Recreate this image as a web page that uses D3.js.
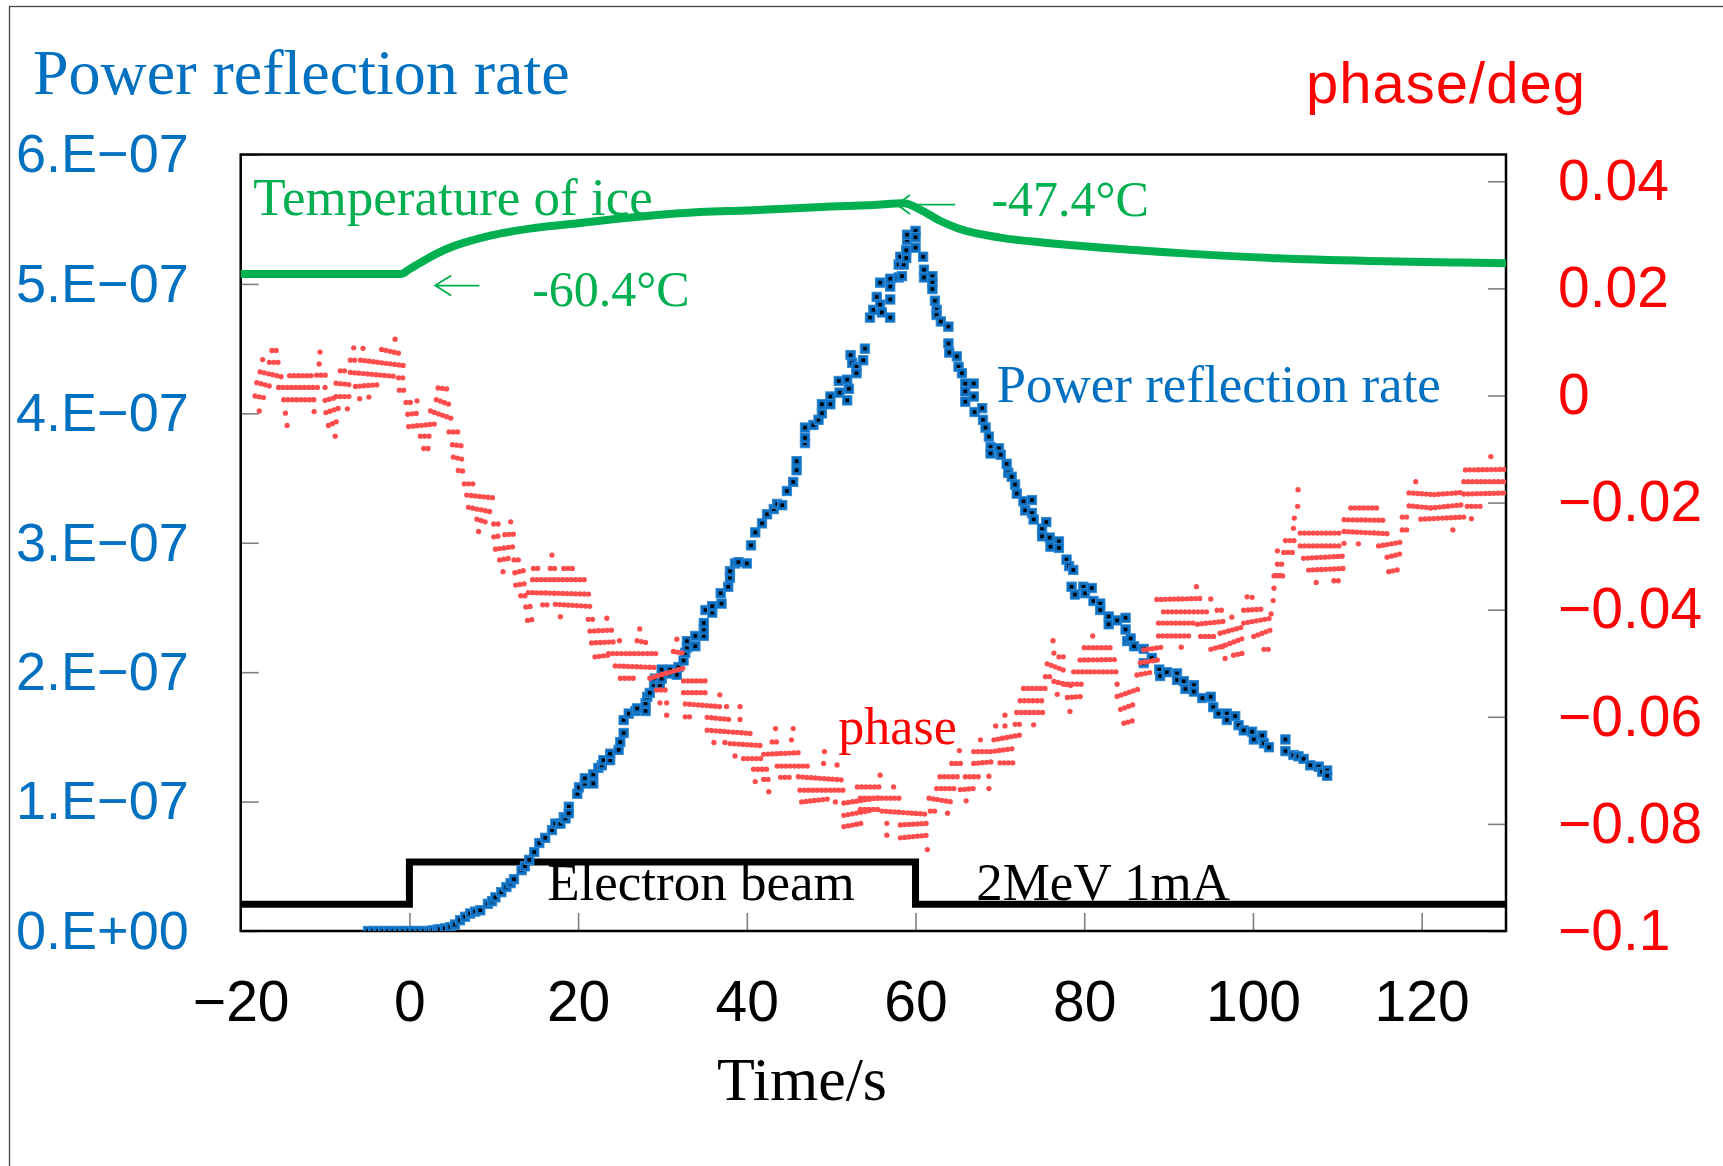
<!DOCTYPE html>
<html>
<head>
<meta charset="utf-8">
<script src="https://cdn.jsdelivr.net/npm/d3@7"></script>
<style>
  body { margin: 0; background: #fff; }
  svg { display: block; }
</style>
</head>
<body>
<div id="chart"></div>
<script>
// power reflection rate, [time s, value x1e-7]
var reflection = [
  [-4.9,0],[-4.3,0],[-3.7,0],[-3.1,0],[-2.5,0],[-1.9,0],[-1.3,0],[-0.7,0],[-0.1,0],[0.5,0],[1.1,0],[1.7,0],[2.3,0],[2.8,0.005],
  [3.3,0.01],[3.6,0.014],[4.2,0.02],[4.85,0.03],[5.4,0.05],[6.0,0.083],[6.6,0.11],[7.2,0.135],[7.8,0.15],[8.4,0.16],
  [9.3,0.21],[9.8,0.23],[10.2,0.26],[10.9,0.30],[11.5,0.34],[12.0,0.37],[12.4,0.40],[13.3,0.47],[13.7,0.50],[14.2,0.55],
  [14.8,0.61],[15.4,0.68],[16.1,0.72],[16.9,0.78],[17.3,0.83],[17.9,0.83],[18.3,0.88],[18.5,0.87],[18.9,0.96],[18.9,0.91],
  [19.9,1.06],[20.1,1.11],[20.8,1.14],[20.8,1.18],[21.8,1.14],[21.8,1.21],[22.4,1.26],[22.8,1.28],[23.0,1.32],[23.8,1.32],
  [23.8,1.37],[24.8,1.40],[25.0,1.46],[25.4,1.53],[25.4,1.63],[26.0,1.68],[26.8,1.70],[27.0,1.72],[28.0,1.70],[28.0,1.76],
  [28.2,1.81],[28.5,1.84],[29.0,1.90],[29.1,1.95],[29.7,1.90],[29.9,1.95],[29.9,2.02],[30.9,1.99],[30.9,2.02],[31.7,1.98],
  [31.9,2.04],[32.5,2.09],[32.7,2.15],[32.9,2.19],[32.9,2.24],[33.9,2.20],[33.9,2.28],[34.9,2.28],[34.9,2.33],[34.9,2.38],
  [35.1,2.48],[35.9,2.46],[35.9,2.51],[37.0,2.53],[36.9,2.61],[37.8,2.66],[38.0,2.73],[38.0,2.78],[38.6,2.84],[39.0,2.85],
  [40.0,2.84],[40.5,2.98],[41.0,3.08],[41.8,3.15],[42.4,3.22],[43.2,3.26],[43.6,3.30],[44.2,3.29],[44.75,3.40],[45.5,3.47],
  [45.9,3.56],[45.9,3.63],[46.9,3.77],[46.9,3.81],[46.9,3.89],[47.9,3.91],[48.5,3.95],[48.9,4.00],[48.9,4.07],[49.9,4.13],
  [49.9,4.07],[50.9,4.25],[51.0,4.16],[51.9,4.26],[52.1,4.19],[51.9,4.10],[52.3,4.45],[52.5,4.39],[53.0,4.36],[53.0,4.31],
  [53.8,4.41],[54.0,4.50],[54.6,4.74],[55.0,4.80],[55.4,4.90],[55.8,4.84],[56.0,4.78],[55.8,5.01],[57.0,4.98],[57.0,4.88],
  [57.0,4.74],[57.0,5.04],[58.0,5.05],[58.4,5.06],[58.0,5.15],[58.2,5.21],[58.6,5.15],[58.9,5.20],[58.9,5.26],[59.0,5.34],
  [59.0,5.38],[60.0,5.41],[60.0,5.36],[60.0,5.28],[60.9,5.21],[61.0,5.11],[61.0,5.05],[62.0,5.06],[62.0,5.01],[62.0,4.96],
  [62.3,4.87],[62.5,4.80],[62.5,4.76],[63.0,4.71],[63.9,4.67],[63.9,4.54],[64.0,4.47],[64.9,4.44],[65.1,4.36],[65.5,4.31],
  [65.9,4.23],[65.9,4.17],[65.9,4.09],[66.9,4.23],[66.9,4.13],[67.0,4.01],[67.9,4.04],[68.0,3.95],[68.3,3.89],[68.7,3.82],
  [68.9,3.74],[68.9,3.69],[69.9,3.73],[70.1,3.68],[70.8,3.61],[71.0,3.54],[71.4,3.51],[71.8,3.45],[72.0,3.38],[72.8,3.32],
  [73.0,3.25],[73.8,3.33],[73.8,3.23],[74.0,3.18],[75.0,3.11],[75.0,3.05],[75.5,3.16],[75.9,3.04],[76.0,2.97],[77.0,3.01],
  [77.0,2.96],[77.9,2.87],[78.2,2.82],[78.7,2.79],[78.5,2.66],[78.9,2.60],[79.9,2.66],[80.1,2.61],[80.9,2.65],[81.1,2.55],
  [81.9,2.53],[81.9,2.48],[82.9,2.43],[82.9,2.37],[83.9,2.40],[84.9,2.42],[84.9,2.33],[85.1,2.24],[85.5,2.26],[85.9,2.20],
  [87.05,2.18],[87.05,2.07],[88.0,2.11],[88.9,2.02],[89.0,1.97],[89.8,2.00],[91.0,1.99],[91.0,1.94],[91.8,1.93],[92.0,1.87],
  [93.0,1.90],[93.0,1.85],[94.0,1.80],[95.0,1.81],[95.3,1.73],[95.9,1.68],[96.9,1.68],[96.9,1.63],[97.9,1.66],[98.3,1.59],
  [98.9,1.55],[99.9,1.54],[100.1,1.48],[101.1,1.51],[101.3,1.45],[101.9,1.42],[103.85,1.48],[103.85,1.39],[104.8,1.36],
  [105.4,1.35],[106.0,1.33],[106.8,1.28],[107.8,1.27],[108.2,1.23],[108.8,1.24],[108.8,1.20]
];

// phase, runs of samples at one level: [t start, t end, phase start, phase end]
var phaseRuns = [
  [-17.7,-14.9,0.0044,0.0034],[-16.3,-15.3,0.0084,0.0084],[-16.6,-15.3,0.0062,0.0062],[-18.1,-16.4,0.0024,0.0017],
  [-18.3,-16.9,-0.0001,-0.0005],[-14.2,-11.4,0.0037,0.0037],[-15.5,-10.8,0.0015,0.0015],[-14.9,-11.0,-0.0008,-0.0008],
  [-11.0,-9.9,0.0038,0.0038],[-10.0,-9.0,-0.0009,-0.0005],[-9.9,-8.4,-0.0032,-0.0024],[-9.6,-8.5,-0.0056,-0.0048],
  [-8.2,-7.6,0.0046,0.0046],[-8.7,-7.0,0.0023,0.0020],[-8.7,-7.0,-0.0002,-0.0002],[-7.0,-6.2,0.0066,0.0066],
  [-5.8,-0.7,0.0066,0.0056],[-7.0,-1.9,0.0043,0.0036],[-6.4,-3.7,0.0017,0.0020],[-3.3,-1.3,0.0086,0.0079],
  [-1.3,-0.3,0.0033,0.0033],[-1.2,-0.3,0.0010,0.0010],[-0.4,0.5,-0.0013,-0.0013],[-0.2,1.3,-0.0035,-0.0033],
  [-0.1,3.2,-0.0058,-0.0053],[1.3,2.8,-0.0076,-0.0076],[1.7,2.4,-0.0099,-0.0099],[3.4,4.6,0.0014,0.0012],
  [3.2,4.8,-0.0008,-0.0017],[2.5,5.0,-0.0029,-0.0043],[4.7,6.2,-0.0068,-0.0068],[5.1,6.3,-0.0092,-0.0094],
  [5.2,6.5,-0.0115,-0.0120],[5.8,6.8,-0.0140,-0.0142],[6.5,7.6,-0.0165,-0.0165],[6.8,9.95,-0.0186,-0.0191],
  [7.0,9.95,-0.0209,-0.0218],[8.0,9.4,-0.0231,-0.0238],[10.0,10.55,-0.0240,-0.0240],[10.0,10.75,-0.0264,-0.0262],
  [10.2,12.5,-0.0287,-0.0282],[10.7,11.85,-0.0307,-0.0304],[11.3,12.4,-0.0260,-0.0259],[12.4,13.2,-0.0307,-0.0307],
  [12.5,13.8,-0.0331,-0.0326],[12.6,13.9,-0.0354,-0.0351],[13.2,13.8,-0.0374,-0.0374],[13.8,14.8,-0.0395,-0.0393],
  [14.0,14.7,-0.0420,-0.0418],[14.7,15.5,-0.0323,-0.0323],[16.7,17.3,-0.0323,-0.0323],[18.3,19.5,-0.0323,-0.0323],
  [14.6,21.2,-0.0344,-0.0344],[14.1,21.4,-0.0368,-0.0371],[15.8,16.7,-0.0391,-0.0391],[17.3,21.6,-0.0390,-0.0394],
  [21.2,21.8,-0.0418,-0.0418],[21.4,24.2,-0.0440,-0.0438],[21.6,24.4,-0.0462,-0.0460],[27.0,28.3,-0.0458,-0.0462],
  [22.0,23.6,-0.0488,-0.0485],[23.6,29.3,-0.0482,-0.0482],[24.4,29.3,-0.0505,-0.0508],[25.0,27.0,-0.0528,-0.0528],
  [31.3,32.5,-0.0478,-0.0481],[28.5,32.5,-0.0528,-0.0509],[29.3,30.5,-0.0550,-0.0550],[32.5,35.3,-0.0533,-0.0533],
  [32.5,35.3,-0.0555,-0.0555],[32.7,36.8,-0.0576,-0.0581],[32.7,33.7,-0.0600,-0.0600],[35.3,38.0,-0.0601,-0.0605],
  [35.3,40.4,-0.0625,-0.0631],[38.0,42.0,-0.0650,-0.0654],[39.6,42.0,-0.0678,-0.0678],[40.8,42.8,-0.0698,-0.0698],
  [42.0,46.1,-0.0670,-0.0667],[43.0,43.8,-0.0647,-0.0647],[43.6,47.5,-0.0692,-0.0692],[42.0,43.0,-0.0717,-0.0717],
  [44.0,45.1,-0.0713,-0.0713],[46.1,51.5,-0.0712,-0.0718],[46.3,51.5,-0.0737,-0.0737],[46.5,49.9,-0.0759,-0.0753],
  [51.5,55.8,-0.0761,-0.0751],[51.5,55.0,-0.0784,-0.0774],[51.5,53.6,-0.0805,-0.0799],[53.1,55.8,-0.0731,-0.0731],
  [53.45,58.2,-0.0752,-0.0752],[53.45,55.8,-0.0773,-0.0773],[56.0,61.4,-0.0776,-0.0782],[58.2,61.4,-0.0802,-0.0799],
  [58.2,61.6,-0.0826,-0.0821],[61.6,64.3,-0.0752,-0.0759],[61.75,62.5,-0.0776,-0.0776],[62.5,64.9,-0.0734,-0.0734],
  [62.9,65.3,-0.0712,-0.0712],[64.3,65.5,-0.0687,-0.0687],[65.3,66.9,-0.0736,-0.0734],[65.9,67.5,-0.0712,-0.0712],
  [66.9,69.3,-0.0687,-0.0684],[66.9,68.5,-0.0665,-0.0665],[68.9,71.8,-0.0665,-0.0659],[69.3,72.4,-0.0643,-0.0634],
  [70.0,71.6,-0.0686,-0.0686],[71.8,72.6,-0.0614,-0.0614],[72.0,75.2,-0.0592,-0.0592],[72.4,75.4,-0.0570,-0.0570],
  [72.8,75.6,-0.0547,-0.0547],[75.4,76.4,-0.0525,-0.0525],[75.6,77.6,-0.0501,-0.0513],[76.4,78.75,-0.0534,-0.0543],
  [78.0,79.7,-0.0564,-0.0562],[77.6,79.7,-0.0539,-0.0539],[77.0,78.0,-0.0488,-0.0488],[78.75,80.7,-0.0516,-0.0516],
  [79.5,83.9,-0.0494,-0.0493],[80.0,83.5,-0.0471,-0.0471],[80.7,83.9,-0.0516,-0.0516],[83.9,86.65,-0.0562,-0.0547],
  [84.3,86.05,-0.0586,-0.0576],[84.7,86.05,-0.0612,-0.0606],[86.25,88.2,-0.0522,-0.0516],[86.65,89.0,-0.0499,-0.0493],
  [87.05,89.2,-0.0475,-0.0470],[88.8,92.6,-0.0449,-0.0449],[88.8,93.0,-0.0425,-0.0425],[89.4,94.8,-0.0404,-0.0404],
  [88.6,93.8,-0.0381,-0.0379],[93.4,96.5,-0.0427,-0.0422],[93.8,95.55,-0.0450,-0.0450],[95.0,96.9,-0.0474,-0.0466],
  [95.75,96.3,-0.0401,-0.0401],[96.1,98.9,-0.0444,-0.0432],[96.3,98.9,-0.0469,-0.0453],[97.7,98.9,-0.0485,-0.0481],
  [98.9,102.1,-0.0425,-0.0416],[98.9,101.1,-0.0401,-0.0399],[100.1,102.1,-0.0450,-0.0438],[101.3,102.1,-0.0474,-0.0474],
  [102.5,103.65,-0.0337,-0.0337],[102.7,103.3,-0.0336,-0.0336],[102.9,103.7,-0.0315,-0.0315],[103.65,105.0,-0.0293,-0.0293],
  [103.85,105.0,-0.0271,-0.0271],[105.6,110.4,-0.0257,-0.0257],[105.6,110.4,-0.0281,-0.0281],[106.0,110.8,-0.0304,-0.0300],
  [106.6,110.8,-0.0326,-0.0323],[109.6,110.4,-0.0346,-0.0346],[110.8,115.5,-0.0232,-0.0233],[110.8,115.9,-0.0254,-0.0258],
  [111.6,115.1,-0.0210,-0.0210],[114.9,117.9,-0.0281,-0.0273],[115.9,117.7,-0.0302,-0.0295],[116.1,117.3,-0.0329,-0.0325],
  [117.7,118.7,-0.0251,-0.0251],[117.7,118.7,-0.0227,-0.0227],[118.5,121.5,-0.0182,-0.0185],[121.5,125.0,-0.0185,-0.0181],
  [118.5,121.1,-0.0206,-0.0210],[121.1,125.0,-0.0210,-0.0204],[119.9,125.0,-0.0231,-0.0227],[125.0,130.3,-0.0184,-0.0182],
  [125.0,130.3,-0.0161,-0.0161],[125.2,130.3,-0.0139,-0.0138],[125.4,127.0,-0.0207,-0.0207]
];

// phase, single samples off the runs: [t, phase]
var phaseDots = [
  [-17.8,-0.0029],[-17.4,0.0067],[-14.7,-0.0033],[-14.5,-0.0056],[-11.3,-0.0030],[-10.6,0.0081],[-10.7,0.0059],
  [-10.0,0.0015],[-8.8,-0.0076],[-7.35,-0.0025],[-6.6,0.0089],[-5.5,0.0088],[-5.9,-0.0006],[-4.8,-0.0003],[-1.7,0.0105],
  [0.9,-0.0010],[8.2,-0.0254],[11.1,-0.0329],[12.0,-0.0236],[16.9,-0.0298],[17.9,-0.0413],[23.4,-0.0416],[27.3,-0.0436],
  [24.9,-0.0458],[31.7,-0.0455],[29.7,-0.0574],[30.5,-0.0574],[30.5,-0.0597],[36.8,-0.0559],[37.6,-0.0581],[39.2,-0.0581],
  [39.2,-0.0605],[36.1,-0.0648],[37.4,-0.0648],[38.6,-0.0673],[41.0,-0.0721],[42.6,-0.0740],[43.4,-0.0622],[45.5,-0.0622],
  [45.3,-0.0643],[49.2,-0.0665],[49.1,-0.0687],[50.7,-0.0690],[50.5,-0.0759],[55.8,-0.0709],[57.4,-0.0731],[56.6,-0.0799],
  [56.6,-0.0821],[61.4,-0.0848],[63.8,-0.0780],[65.2,-0.0663],[66.0,-0.0757],[67.7,-0.0643],[68.7,-0.0734],[68.7,-0.0711],
  [69.5,-0.0617],[70.6,-0.0617],[70.6,-0.0597],[74.0,-0.0615],[76.3,-0.0458],[76.4,-0.0481],[76.8,-0.0558],[78.3,-0.0590],
  [81.0,-0.0449],[83.9,-0.0539],[91.5,-0.0470],[93.3,-0.0357],[95.0,-0.0380],[97.5,-0.0414],[96.7,-0.0491],[99.3,-0.0376],
  [99.9,-0.0377],[102.15,-0.0408],[102.4,-0.0383],[102.5,-0.0360],[102.9,-0.0290],[104.8,-0.0248],[104.9,-0.0229],
  [105.3,-0.0207],[105.35,-0.0176],[107.5,-0.0349],[110.8,-0.0276],[112.5,-0.0277],[123.7,-0.0251],[125.9,-0.0230],
  [119.3,-0.0161],[128.2,-0.0114]
];

// temperature of ice, degC
var tempTime  = [-20, -1, 0, 1.75, 4.4, 9.7, 15, 20.3, 25.6, 34.5, 40, 50, 55, 58.6, 60.6, 62.9, 65.0, 70, 75, 80, 91.9, 102.9, 113.8, 124.7, 130];
var tempValue = [-60.4, -60.4, -59.5, -57.9, -55.8, -53.3, -51.9, -51.0, -50.1, -49.0, -48.7, -48.0, -47.7, -47.4, -48.6, -50.6, -52.0, -53.7, -54.6, -55.3, -56.6, -57.5, -58.0, -58.3, -58.4];

// electron beam on/off trace, drawn on the left axis
var beamTime  = [-20, 0, 0, 60, 60, 130];
var beamLevel = [0.207, 0.207, 0.534, 0.534, 0.207, 0.207];

var xTicks     = [-20, 0, 20, 40, 60, 80, 100, 120];
var leftTicks  = [0, 1, 2, 3, 4, 5, 6];
var rightTicks = [-0.1, -0.08, -0.06, -0.04, -0.02, 0, 0.02, 0.04];

(function() {
    'use strict';

    var W = 1723, H = 1166;
    var left = 240.7, top = 154.5, right = 1506, bottom = 931;
    var w = right - left, h = bottom - top;

    var sans  = '"Liberation Sans", Arial, sans-serif';
    var serif = '"Liberation Serif", "Times New Roman", serif';
    var blue = '#0070C0', red = '#FF0000', green = '#00B050';

    var x  = d3.scaleLinear().domain([-20, 130]).range([0, w]);
    var yL = d3.scaleLinear().domain([0, 6]).range([h, 0]);
    var yR = d3.scaleLinear().domain([-0.1, 0.045]).range([h, 0]);
    // hidden temperature scale: -60.4 and -47.4 land where the picture has them
    var yT = d3.scaleLinear().domain([-181.2, -38.42]).range([h, 0]);

    var svg = d3.select('#chart')
      .append('svg')
        .attr('width', W)
        .attr('height', H);

    svg.append('rect').attr('width', W).attr('height', H).attr('fill', 'white');

    // outer border
    svg.append('rect')
        .attr('x', 9.5).attr('y', 6.5)
        .attr('width', W + 20).attr('height', H + 20)
        .attr('fill', 'none').attr('stroke', '#444').attr('stroke-width', 1.3);

    var g = svg.append('g').attr('transform', 'translate(' + left + ',' + top + ')');

    g.append('clipPath').attr('id', 'plot')
      .append('rect').attr('width', w).attr('height', h);

    // axes, ticks pointing inward
    var xAxis = g.append('g')
        .attr('transform', 'translate(0,' + h + ')')
        .call(d3.axisBottom(x).tickValues(xTicks).tickSize(-18).tickPadding(50));
    xAxis.selectAll('text')
        .attr('font-family', sans).attr('font-size', 57).attr('fill', 'black');

    var lAxis = g.append('g')
        .call(d3.axisLeft(yL).tickValues(leftTicks).tickSize(-18).tickPadding(52)
              .tickFormat(function(d) { return d + '.E' + (d === 0 ? '+00' : '\u221207'); }));
    lAxis.selectAll('text')
        .attr('font-family', sans).attr('font-size', 54).attr('fill', blue);

    var rAxis = g.append('g')
        .attr('transform', 'translate(' + w + ',0)')
        .call(d3.axisRight(yR).tickValues(rightTicks).tickSize(-18).tickPadding(52)
              .tickFormat(function(d) {
                  if (Math.abs(d) < 1e-9) return '0';
                  return (d < 0 ? '\u2212' : '') + (+Math.abs(d).toFixed(2));
              }));
    rAxis.selectAll('text')
        .attr('font-family', sans).attr('font-size', 57).attr('fill', red);

    [xAxis, lAxis, rAxis].forEach(function(a) {
        a.select('.domain').remove();
        a.selectAll('.tick line').attr('stroke', '#7f7f7f').attr('stroke-width', 1.6);
    });

    g.append('rect')
        .attr('width', w).attr('height', h)
        .attr('fill', 'none').attr('stroke', 'black').attr('stroke-width', 2.5);

    var plot = g.append('g').attr('clip-path', 'url(#plot)');

    // electron beam
    var beam = beamTime.map(function(t, i) { return [t, beamLevel[i]]; });
    plot.append('path')
        .attr('d', d3.line().x(function(d) { return x(d[0]); }).y(function(d) { return yL(d[1]); })(beam))
        .attr('fill', 'none').attr('stroke', 'black').attr('stroke-width', 7)
        .attr('stroke-linejoin', 'miter');

    // power reflection rate markers
    var m = plot.append('g').selectAll('g').data(reflection).enter().append('g')
        .attr('transform', function(d) { return 'translate(' + x(d[0]) + ',' + yL(d[1]) + ')'; });
    m.append('rect')
        .attr('x', -4.7).attr('y', -4.7).attr('width', 9.4).attr('height', 9.4)
        .attr('fill', '#0A6EC0').attr('stroke', '#3388D2').attr('stroke-width', 0.9);
    m.append('rect')
        .attr('x', -1.8).attr('y', -1.8).attr('width', 3.6).attr('height', 3.6)
        .attr('fill', 'black');

    // phase samples
    var dotColor = '#FF4D4D';
    plot.append('g').selectAll('path').data(phaseRuns).enter().append('path')
        .attr('d', function(d) {
            return 'M' + x(d[0]) + ',' + yR(d[2]) + 'L' + x(d[1]) + ',' + yR(d[3]);
        })
        .attr('stroke', dotColor).attr('stroke-width', 5.3)
        .attr('stroke-linecap', 'round').attr('stroke-dasharray', '0 4.3')
        .attr('fill', 'none');
    plot.append('g').selectAll('circle').data(phaseDots).enter().append('circle')
        .attr('cx', function(d) { return x(d[0]); })
        .attr('cy', function(d) { return yR(d[1]); })
        .attr('r', 2.65)
        .attr('fill', dotColor);

    // temperature of ice
    var temp = tempTime.map(function(t, i) { return [t, tempValue[i]]; });
    plot.append('path')
        .attr('d', d3.line().curve(d3.curveMonotoneX)
              .x(function(d) { return x(d[0]); }).y(function(d) { return yT(d[1]); })(temp))
        .attr('fill', 'none').attr('stroke', green).attr('stroke-width', 8)
        .attr('stroke-linecap', 'round');

    // arrows pointing at the curve
    function arrow(t0, t1, v, head, spread) {
        var x0 = x(t0), x1 = x(t1), y = yL(v);
        g.append('path')
            .attr('d', 'M' + x1 + ',' + y + 'L' + x0 + ',' + y +
                       'M' + (x0 + head) + ',' + (y - spread) + 'L' + x0 + ',' + y +
                       'L' + (x0 + head) + ',' + (y + spread))
            .attr('fill', 'none').attr('stroke', green).attr('stroke-width', 1.8);
    }
    arrow(57.8, 64.7, 5.613, 13, 9.5);
    arrow(3.05, 8.3, 4.987, 16, 10);

    function label(txt, t, v, size, color) {
        g.append('text')
            .attr('x', x(t)).attr('y', yL(v))
            .attr('font-family', serif).attr('font-size', size)
            .attr('fill', color)
            .text(txt);
    }
    label('Temperature of ice', -18.5, 5.536, 53, green);
    label('-47.4\u00B0C', 69.0, 5.528, 50, green);
    label('-60.4\u00B0C', 14.55, 4.827, 50, green);
    label('Power reflection rate', 69.6, 4.086, 53, blue);
    label('phase', 50.85, 1.445, 52, red);
    label('Electron beam', 16.33, 0.238, 53, 'black');
    label('2MeV 1mA', 67.2, 0.238, 53, 'black');

    // titles
    svg.append('text')
        .attr('x', 33).attr('y', 94)
        .attr('font-family', serif).attr('font-size', 64).attr('fill', blue)
        .text('Power reflection rate');
    svg.append('text')
        .attr('x', 1306).attr('y', 103)
        .attr('font-family', sans).attr('font-size', 58).attr('fill', red)
        .attr('letter-spacing', 1)
        .text('phase/deg');
    svg.append('text')
        .attr('x', 802).attr('y', 1100)
        .attr('text-anchor', 'middle')
        .attr('font-family', serif).attr('font-size', 62).attr('fill', 'black')
        .text('Time/s');
}());
</script>
</body>
</html>
